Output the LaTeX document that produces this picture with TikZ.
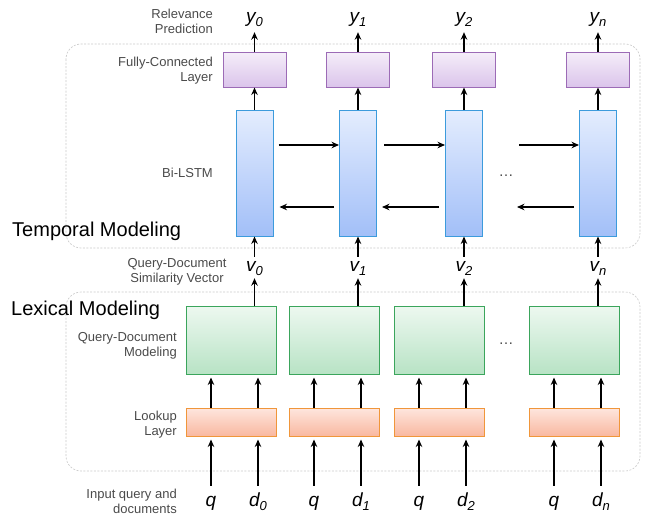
\documentclass[tikz,border=0pt]{standalone}
\usepackage{fontspec}
\setmainfont{Liberation Sans}
\usetikzlibrary{arrows.meta}

\definecolor{fcline}{HTML}{9C6BB6}
\definecolor{fctop}{HTML}{F5EEF9}
\definecolor{fcbot}{HTML}{DBC4EB}
\definecolor{lsline}{HTML}{3C9BDC}
\definecolor{lstop}{HTML}{E4EDFE}
\definecolor{lsbot}{HTML}{A2BFF8}
\definecolor{qdline}{HTML}{3BA55C}
\definecolor{qdtop}{HTML}{EDF8F0}
\definecolor{qdbot}{HTML}{B8E3C5}
\definecolor{lkline}{HTML}{F0963A}
\definecolor{lktop}{HTML}{FEE6DE}
\definecolor{lkbot}{HTML}{F9B8A0}
\definecolor{labelgray}{HTML}{4A4A4A}
\definecolor{framegray}{HTML}{C8C8C8}

\newcommand\lsub[1]{\raisebox{-4.5pt}{\fontsize{13}{13}\selectfont #1}}

\tikzset{
  fcbox/.style={draw=fcline, line width=1pt, top color=fctop, bottom color=fcbot,
    minimum width=63pt, minimum height=35pt, inner sep=0pt},
  lstmbox/.style={draw=lsline, line width=1pt, top color=lstop, bottom color=lsbot,
    minimum width=37pt, minimum height=126pt, inner sep=0pt},
  qdbox/.style={draw=qdline, line width=1pt, top color=qdtop, bottom color=qdbot,
    minimum width=90pt, minimum height=68pt, inner sep=0pt},
  lkbox/.style={draw=lkline, line width=1pt, top color=lktop, bottom color=lkbot,
    minimum width=90pt, minimum height=28pt, inner sep=0pt},
  arr/.style={-{Stealth[length=7.5pt,width=6.5pt]}, line width=1.4pt, black},
  frame/.style={draw=framegray, line width=0.6pt, dash pattern=on 2pt off 1.5pt, rounded corners=15pt},
  sidelabel/.style={font=\fontsize{13}{15}\selectfont, text=labelgray, inner sep=0pt},
  biglabel/.style={font=\fontsize{20}{24}\selectfont, text=black, inner sep=0pt, anchor=base west},
  var/.style={font=\fontsize{19}{22}\selectfont\itshape, inner sep=0pt, anchor=base,
    text height=11pt, text depth=5pt},
  dots/.style={font=\fontsize{15}{15}\selectfont, text=labelgray, inner sep=0pt}
}

\begin{document}
\begin{tikzpicture}[x=1pt,y=-1pt]
\useasboundingbox (0,0) rectangle (646,515);

% group frames
\draw[frame] (66,44) rectangle (640,248);
\draw[frame] (66,292) rectangle (640,471);

% temporal part: fully-connected layer and Bi-LSTM
\foreach \i/\x in {1/254.5, 2/358, 3/464, 4/598} {
  \node[fcbox] (fc\i) at (\x,69.5) {};
  \node[lstmbox] (ls\i) at (\x,173) {};
}

% lexical part: query-document modeling and lookup layer
\foreach \i/\x in {1/231, 2/334, 3/439, 4/574} {
  \node[qdbox] (qd\i) at (\x,340) {};
  \node[lkbox] (lk\i) at (\x,422) {};
}

% outputs y
\node[var] (y1) at (254.5,22) {y\lsub{0}};
\node[var] (y2) at (358,22) {y\lsub{1}};
\node[var] (y3) at (464,22) {y\lsub{2}};
\node[var] (y4) at (598,22) {y\lsub{n}};

% similarity vectors v
\node[var] (v1) at (254.5,271) {v\lsub{0}};
\node[var] (v2) at (358,271) {v\lsub{1}};
\node[var] (v3) at (464,271) {v\lsub{2}};
\node[var] (v4) at (598,271) {v\lsub{n}};

% inputs q and d
\foreach \i/\x in {1/231, 2/334, 3/439, 4/574} {
  \coordinate (qx\i) at (\x-20,0);
  \coordinate (dx\i) at (\x+27,0);
}
\node[var] (q1) at (211,506) {q};
\node[var] (d1) at (258,506) {d\lsub{0}};
\node[var] (q2) at (314,506) {q};
\node[var] (d2) at (361,506) {d\lsub{1}};
\node[var] (q3) at (419,506) {q};
\node[var] (d3) at (466,506) {d\lsub{2}};
\node[var] (q4) at (554,506) {q};
\node[var] (d4) at (601,506) {d\lsub{n}};

\foreach \i in {1,2,3,4} {
  % temporal column
  \draw[arr] (fc\i.north) -- (fc\i.north |- y\i.south) [shorten >=5pt];
  \draw[arr] (ls\i.north) -- (fc\i.south);
  \draw[arr] ([yshift=3pt]ls\i.south |- v\i.north) -- (ls\i.south);
  \draw[arr] (qd\i.north -| v\i) -- (v\i.south) [shorten >=2pt];
  % lexical column
  \draw[arr, shorten >=3pt] (lk\i.north -| qx\i) -- (qd\i.south -| qx\i);
  \draw[arr, shorten >=3pt] (lk\i.north -| dx\i) -- (qd\i.south -| dx\i);
  \draw[arr, shorten >=3pt] ([yshift=9pt]q\i.north -| qx\i) -- (lk\i.south -| qx\i);
  \draw[arr, shorten >=3pt] ([yshift=9pt]d\i.north -| dx\i) -- (lk\i.south -| dx\i);
}

% recurrent connections
\draw[arr] ([shift={(5,-28)}]ls1.east) -- ([shift={(0,-28)}]ls2.west);
\draw[arr] ([shift={(-5,34)}]ls2.west) -- ([shift={(6,34)}]ls1.east);
\draw[arr] ([shift={(7,-28)}]ls2.east) -- ([shift={(0,-28)}]ls3.west);
\draw[arr] ([shift={(-6,34)}]ls3.west) -- ([shift={(5,34)}]ls2.east);
\draw[arr] ([shift={(36,-28)}]ls3.east) -- ([shift={(0,-28)}]ls4.west);
\draw[arr] ([shift={(-5,34)}]ls4.west) -- ([shift={(34,34)}]ls3.east);

% ellipses
\node[dots] (dotsT) at (506,176) {…};
\node[dots] (dotsL) at (506,344) {…};

% side labels (base anchor sits on the last line)
\node[sidelabel, align=right, anchor=base east] (lbrel) at (213,33) {Relevance\\Prediction};
\node[sidelabel, align=right, anchor=base east] (lbfc) at (213,81) {Fully-Connected\\Layer};
\node[sidelabel, anchor=base east] (lbls) at (213,177) {Bi-LSTM};
\node[sidelabel, align=center, anchor=base] (lbsim) at (177,282) {Query-Document\\Similarity Vector};
\node[sidelabel, align=right, anchor=base east] (lbqd) at (177,356) {Query-Document\\Modeling};
\node[sidelabel, align=right, anchor=base east] (lblk) at (177,435) {Lookup\\Layer};
\node[sidelabel, align=right, anchor=base east] (lbin) at (177,513) {Input query and\\documents};

\node[biglabel] (temporal) at (12,236) {Temporal Modeling};
\node[biglabel] (lexical) at (11,315) {Lexical Modeling};
\end{tikzpicture}
\end{document}
